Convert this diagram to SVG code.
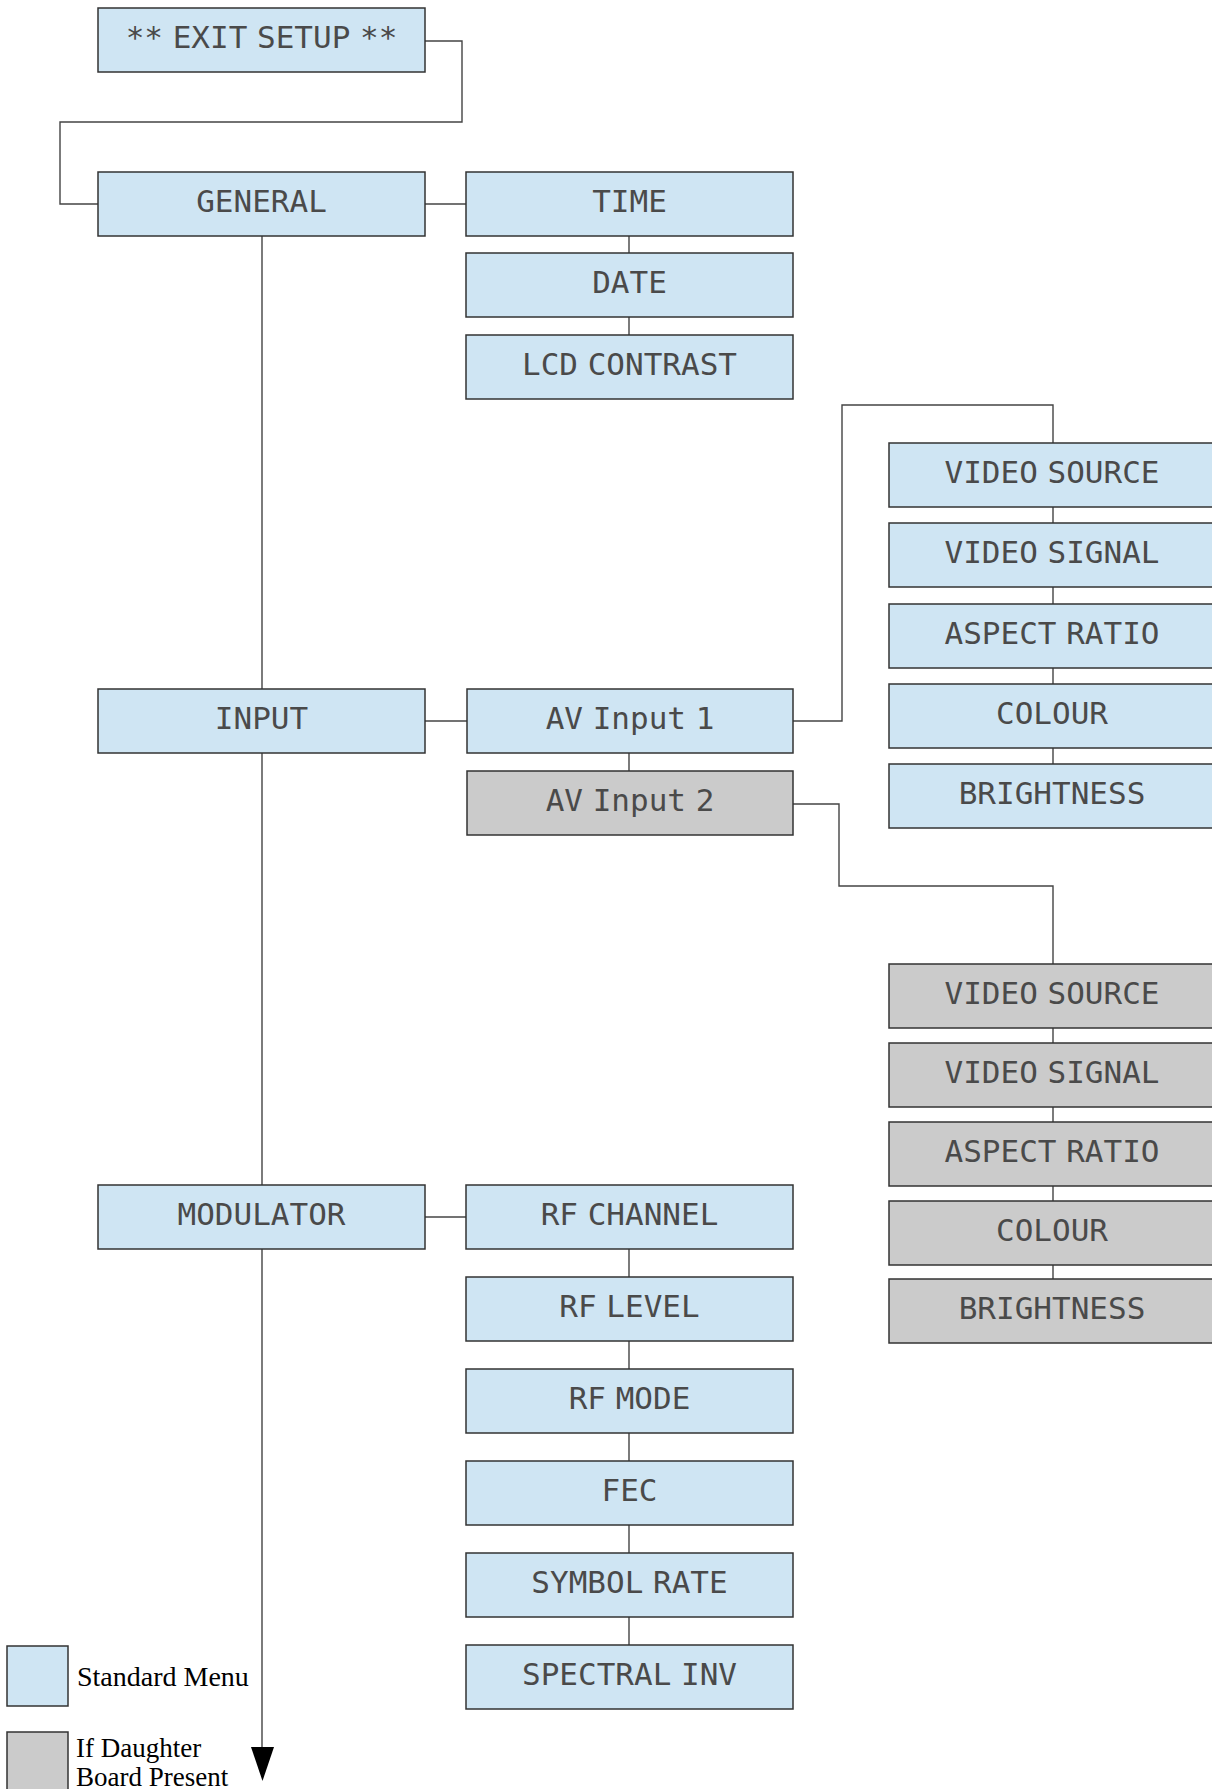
<svg xmlns="http://www.w3.org/2000/svg" width="1212" height="1789" viewBox="0 0 1212 1789">
<style>
.b{fill:#cfe5f3;stroke:#333;stroke-width:1.5}
.g{fill:#cbcbcb;stroke:#333;stroke-width:1.5}
.t{font-family:"DejaVu Sans Mono","Liberation Mono",monospace;font-size:31px;fill:#4a4a4a;text-anchor:middle;word-spacing:-9px}
.c{fill:none;stroke:#444;stroke-width:1.4}
.l{font-family:"Liberation Serif","Times New Roman",serif;font-size:28px;fill:#000}
.l2{font-family:"Liberation Serif","Times New Roman",serif;font-size:27px;fill:#000}
</style>
<rect width="1212" height="1789" fill="#fff"/>
<g id="connectors">
<polyline class="c" points="425,41 462,41 462,122 60,122 60,204 98,204"/>
<line class="c" x1="425" y1="204" x2="466" y2="204"/>
<line class="c" x1="629" y1="236" x2="629" y2="253"/>
<line class="c" x1="629" y1="317" x2="629" y2="335"/>
<line class="c" x1="262" y1="236" x2="262" y2="689"/>
<line class="c" x1="262" y1="753" x2="262" y2="1185"/>
<line class="c" x1="262" y1="1249" x2="262" y2="1750"/>
<polygon points="251,1747 274,1747 262.5,1781" fill="#000"/>
<line class="c" x1="425" y1="721" x2="467" y2="721"/>
<line class="c" x1="629" y1="753" x2="629" y2="771"/>
<polyline class="c" points="793,721 842,721 842,405 1053,405 1053,443"/>
<line class="c" x1="1053" y1="507" x2="1053" y2="523"/>
<line class="c" x1="1053" y1="587" x2="1053" y2="604"/>
<line class="c" x1="1053" y1="668" x2="1053" y2="684"/>
<line class="c" x1="1053" y1="748" x2="1053" y2="764"/>
<polyline class="c" points="793,804 839,804 839,886 1053,886 1053,964"/>
<line class="c" x1="1053" y1="1028" x2="1053" y2="1043"/>
<line class="c" x1="1053" y1="1107" x2="1053" y2="1122"/>
<line class="c" x1="1053" y1="1186" x2="1053" y2="1201"/>
<line class="c" x1="1053" y1="1265" x2="1053" y2="1279"/>
<line class="c" x1="425" y1="1217" x2="466" y2="1217"/>
<line class="c" x1="629" y1="1249" x2="629" y2="1277"/>
<line class="c" x1="629" y1="1341" x2="629" y2="1369"/>
<line class="c" x1="629" y1="1433" x2="629" y2="1461"/>
<line class="c" x1="629" y1="1525" x2="629" y2="1553"/>
<line class="c" x1="629" y1="1617" x2="629" y2="1645"/>
</g>
<g id="exit"><rect class="b" x="98" y="8" width="327" height="64"/><text class="t" x="261.5" y="48">** EXIT SETUP **</text></g>
<g id="general"><rect class="b" x="98" y="172" width="327" height="64"/><text class="t" x="261.5" y="212">GENERAL</text></g>
<g id="time"><rect class="b" x="466" y="172" width="327" height="64"/><text class="t" x="629.5" y="212">TIME</text></g>
<g id="date"><rect class="b" x="466" y="253" width="327" height="64"/><text class="t" x="629.5" y="293">DATE</text></g>
<g id="lcd"><rect class="b" x="466" y="335" width="327" height="64"/><text class="t" x="629.5" y="375">LCD CONTRAST</text></g>
<g id="input"><rect class="b" x="98" y="689" width="327" height="64"/><text class="t" x="261.5" y="729">INPUT</text></g>
<g id="av1"><rect class="b" x="467" y="689" width="326" height="64"/><text class="t" x="630" y="729">AV Input 1</text></g>
<g id="av2"><rect class="g" x="467" y="771" width="326" height="64"/><text class="t" x="630" y="811">AV Input 2</text></g>
<g id="vsrc1"><rect class="b" x="889" y="443" width="330" height="64"/><text class="t" x="1052" y="483">VIDEO SOURCE</text></g>
<g id="vsig1"><rect class="b" x="889" y="523" width="330" height="64"/><text class="t" x="1052" y="563">VIDEO SIGNAL</text></g>
<g id="asp1"><rect class="b" x="889" y="604" width="330" height="64"/><text class="t" x="1052" y="644">ASPECT RATIO</text></g>
<g id="col1"><rect class="b" x="889" y="684" width="330" height="64"/><text class="t" x="1052" y="724">COLOUR</text></g>
<g id="bri1"><rect class="b" x="889" y="764" width="330" height="64"/><text class="t" x="1052" y="804">BRIGHTNESS</text></g>
<g id="vsrc2"><rect class="g" x="889" y="964" width="330" height="64"/><text class="t" x="1052" y="1004">VIDEO SOURCE</text></g>
<g id="vsig2"><rect class="g" x="889" y="1043" width="330" height="64"/><text class="t" x="1052" y="1083">VIDEO SIGNAL</text></g>
<g id="asp2"><rect class="g" x="889" y="1122" width="330" height="64"/><text class="t" x="1052" y="1162">ASPECT RATIO</text></g>
<g id="col2"><rect class="g" x="889" y="1201" width="330" height="64"/><text class="t" x="1052" y="1241">COLOUR</text></g>
<g id="bri2"><rect class="g" x="889" y="1279" width="330" height="64"/><text class="t" x="1052" y="1319">BRIGHTNESS</text></g>
<g id="modulator"><rect class="b" x="98" y="1185" width="327" height="64"/><text class="t" x="261.5" y="1225">MODULATOR</text></g>
<g id="rfch"><rect class="b" x="466" y="1185" width="327" height="64"/><text class="t" x="629.5" y="1225">RF CHANNEL</text></g>
<g id="rflev"><rect class="b" x="466" y="1277" width="327" height="64"/><text class="t" x="629.5" y="1317">RF LEVEL</text></g>
<g id="rfmode"><rect class="b" x="466" y="1369" width="327" height="64"/><text class="t" x="629.5" y="1409">RF MODE</text></g>
<g id="fec"><rect class="b" x="466" y="1461" width="327" height="64"/><text class="t" x="629.5" y="1501">FEC</text></g>
<g id="symrate"><rect class="b" x="466" y="1553" width="327" height="64"/><text class="t" x="629.5" y="1593">SYMBOL RATE</text></g>
<g id="specinv"><rect class="b" x="466" y="1645" width="327" height="64"/><text class="t" x="629.5" y="1685">SPECTRAL INV</text></g>
<g id="legend">
<rect class="b" x="7" y="1646" width="61" height="60"/>
<text class="l" x="77" y="1686">Standard Menu</text>
<rect class="g" x="7" y="1732" width="61" height="70"/>
<text class="l2" x="76" y="1757">If Daughter</text>
<text class="l2" x="76" y="1786">Board Present</text>
</g>
</svg>
